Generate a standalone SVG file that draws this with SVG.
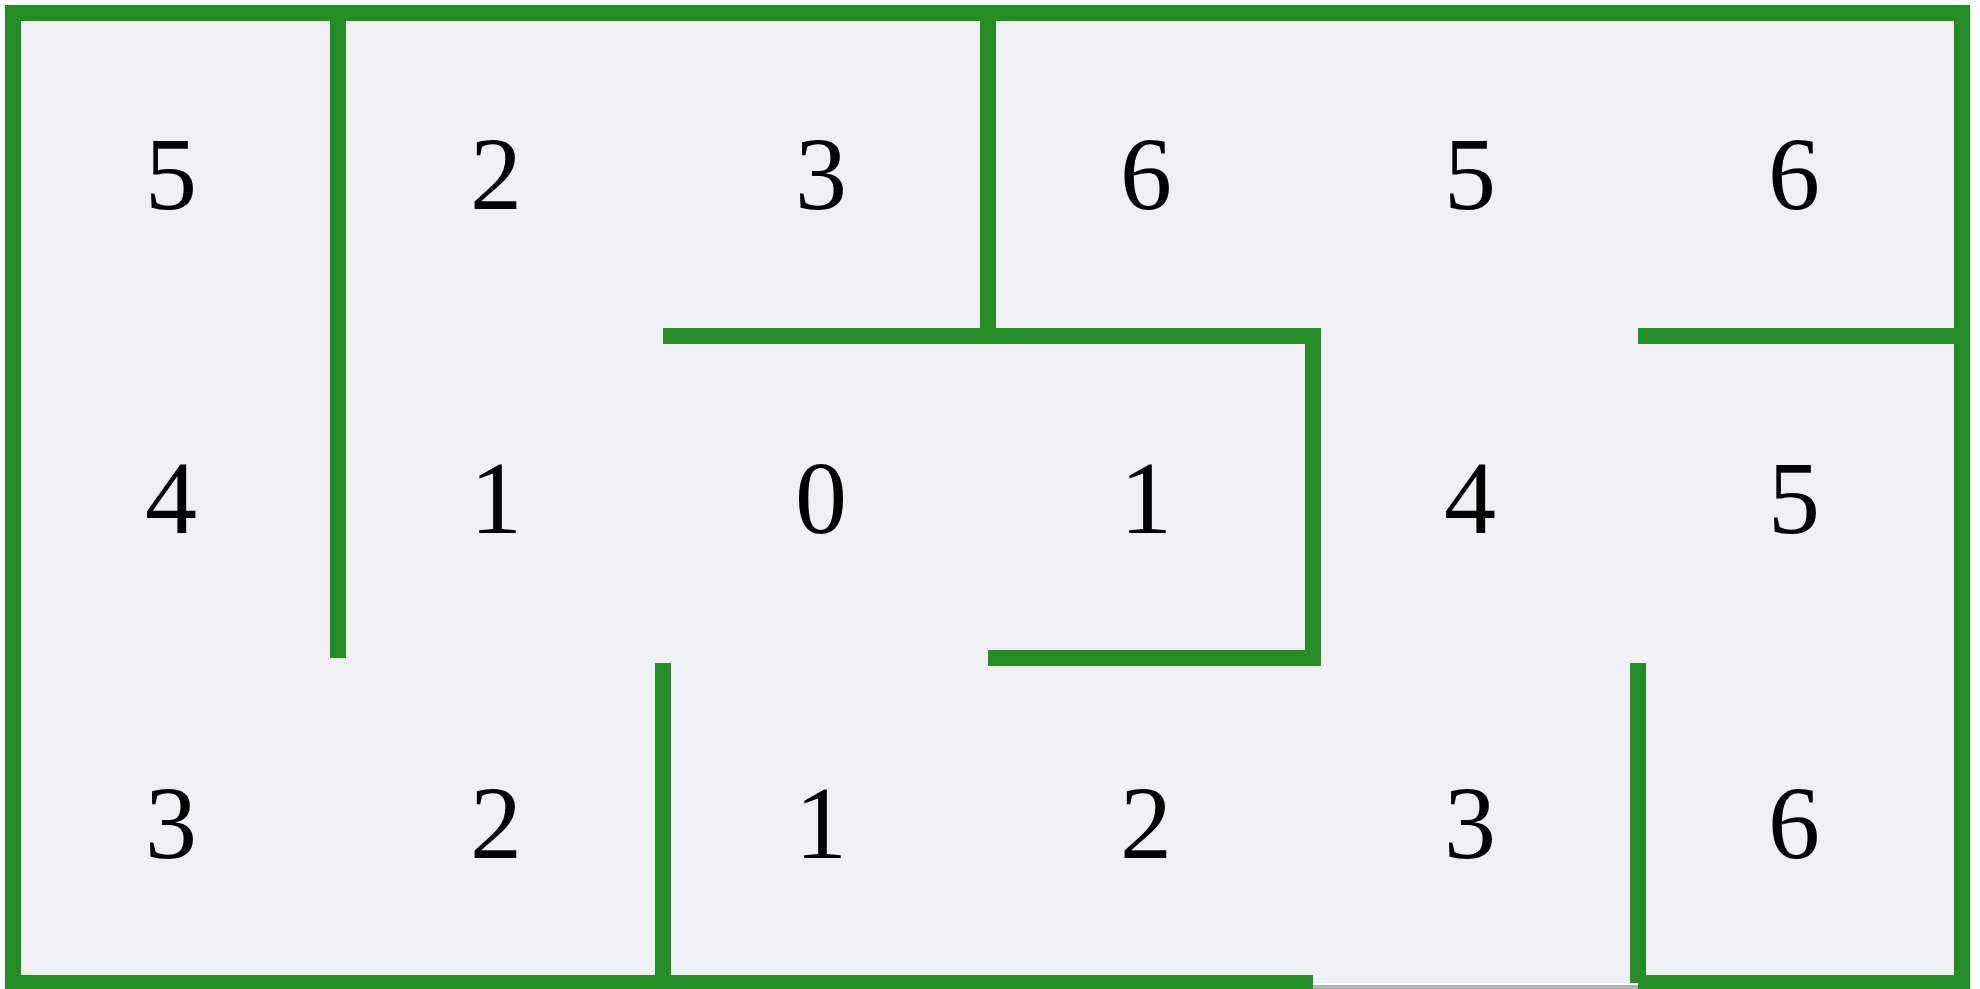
<svg xmlns="http://www.w3.org/2000/svg" width="1980" height="989" viewBox="0 0 1980 989">
<style>
.w{fill:none;stroke:#268c26;stroke-width:16;stroke-linejoin:miter;stroke-linecap:butt}
.n{font-family:"Liberation Serif",serif;font-size:104px;fill:#000;text-anchor:middle}
</style>
<rect x="0" y="0" width="1980" height="989" fill="#ffffff"/>
<rect x="13" y="13" width="1949" height="970" fill="#f0f0f4"/>
<g id="walls">
<line x1="1313" y1="987" x2="1638" y2="987" stroke="#b4b4b4" stroke-width="4"/>
<polyline class="w" points="1313,983 13,983 13,13 1962,13 1962,983 1638,983"/>
<line class="w" x1="338" y1="13" x2="338" y2="658"/>
<line class="w" x1="988" y1="13" x2="988" y2="336"/>
<polyline class="w" points="663,336 1313,336 1313,658 988,658"/>
<line class="w" x1="1638" y1="336" x2="1962" y2="336"/>
<line class="w" x1="663" y1="663" x2="663" y2="983"/>
<line class="w" x1="1638" y1="663" x2="1638" y2="983"/>
</g>
<g id="cells">
<text class="n" x="171" y="209">5</text>
<text class="n" x="496" y="209">2</text>
<text class="n" x="821" y="209">3</text>
<text class="n" x="1146" y="209">6</text>
<text class="n" x="1470" y="209">5</text>
<text class="n" x="1794" y="209">6</text>
<text class="n" x="171" y="533">4</text>
<text class="n" x="496" y="533">1</text>
<text class="n" x="821" y="533">0</text>
<text class="n" x="1146" y="533">1</text>
<text class="n" x="1470" y="533">4</text>
<text class="n" x="1794" y="533">5</text>
<text class="n" x="171" y="858">3</text>
<text class="n" x="496" y="858">2</text>
<text class="n" x="821" y="858">1</text>
<text class="n" x="1146" y="858">2</text>
<text class="n" x="1470" y="858">3</text>
<text class="n" x="1794" y="858">6</text>
</g>
</svg>
